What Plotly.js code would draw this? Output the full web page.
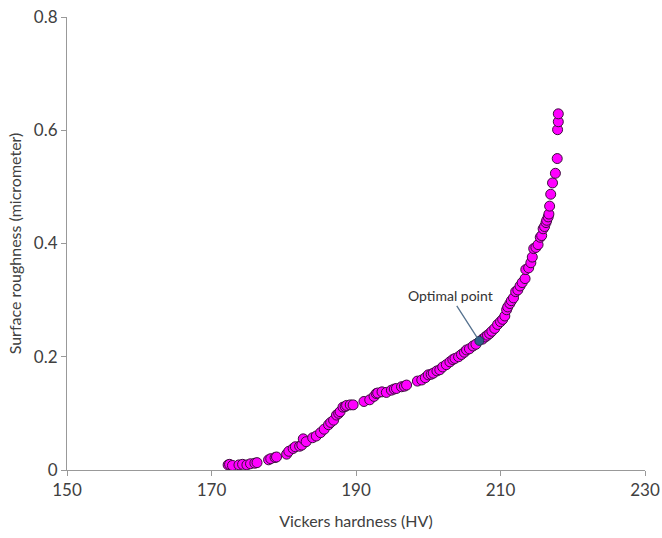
<!DOCTYPE html>
<html>
<head>
<meta charset="utf-8">
<script src="https://cdn.plot.ly/plotly-3.0.1.min.js"></script>
<style>html,body{margin:0;padding:0;background:#fff;}#chart{width:662px;height:538px;}</style>
</head>
<body>
<div id="chart"></div>
<script>
// Vickers hardness (HV) values of the Pareto points
var hardness = [
  172.3, 172.5, 172.9, 173.8, 174.3, 174.9, 175.4, 176.0, 176.3, 177.9,
  178.2, 178.8, 179.0, 180.4, 180.7, 181.3, 181.6, 182.2, 182.5, 182.7,
  183.1, 184.0, 184.5, 185.1, 185.6, 186.2, 186.5, 186.9, 187.3, 187.6,
  187.8, 188.2, 188.5, 188.7, 189.2, 189.6, 191.1, 191.9, 192.5, 192.8,
  193.0, 193.6, 194.2, 194.9, 195.3, 195.6, 196.3, 196.7, 197.0, 198.5,
  199.1, 199.6, 200.0, 200.4, 200.7, 201.2, 201.6, 202.0, 202.5, 203.0,
  203.4, 203.7, 204.2, 204.6, 205.0, 205.3, 205.7, 206.2, 206.6, 207.5,
  207.9, 208.2, 208.5, 208.8, 209.2, 209.6, 210.0, 210.3, 210.6, 210.85,
  211.0, 211.3, 211.5, 211.8, 212.1, 212.4, 212.7, 213.0, 213.4, 213.5,
  213.9, 214.2, 214.4, 214.6, 214.9, 215.2, 215.5, 215.7, 215.9, 216.1,
  216.3, 216.4, 216.6, 216.7, 216.8, 216.95, 217.2, 217.6, 217.85, 217.9,
  218.0, 218.0
];
// Surface roughness (micrometer) values of the Pareto points
var roughness = [
  0.009, 0.010, 0.008, 0.009, 0.010, 0.009, 0.011, 0.012, 0.013, 0.018,
  0.020, 0.022, 0.023, 0.028, 0.033, 0.038, 0.041, 0.042, 0.044, 0.055,
  0.050, 0.057, 0.060, 0.066, 0.072, 0.080, 0.084, 0.088, 0.097, 0.100,
  0.103, 0.111, 0.112, 0.114, 0.115, 0.115, 0.121, 0.124, 0.130, 0.135,
  0.136, 0.138, 0.137, 0.141, 0.143, 0.144, 0.147, 0.148, 0.150, 0.157,
  0.159, 0.163, 0.168, 0.169, 0.171, 0.175, 0.177, 0.182, 0.186, 0.191,
  0.195, 0.197, 0.200, 0.204, 0.208, 0.212, 0.214, 0.219, 0.222, 0.231,
  0.235, 0.238, 0.241, 0.245, 0.250, 0.257, 0.262, 0.266, 0.272, 0.283,
  0.288, 0.294, 0.299, 0.304, 0.315, 0.318, 0.325, 0.331, 0.338, 0.354,
  0.357, 0.366, 0.376, 0.391, 0.393, 0.398, 0.411, 0.414, 0.426, 0.430,
  0.437, 0.441, 0.447, 0.452, 0.466, 0.487, 0.507, 0.524, 0.550, 0.601,
  0.615, 0.629
];
// Optimal point
var optimalHardness = [207.07];
var optimalRoughness = [0.228];
var optimalLabel = "Optimal point";

var xTitle = "Vickers hardness (HV)";
var yTitle = "Surface roughness (micrometer)";

var fontFam = "Lato, 'Open Sans', sans-serif";

var traces = [
  {
    x: hardness, y: roughness, type: "scatter", mode: "markers",
    marker: {color: "#FF00FF", size: 10, line: {color: "#3b103b", width: 1}},
    hoverinfo: "skip", showlegend: false
  },
  {
    x: optimalHardness, y: optimalRoughness, type: "scatter", mode: "markers",
    marker: {color: "#2F5F86", size: 9, line: {color: "#1f3550", width: 1}},
    showlegend: false
  }
];

var axisCommon = {
  showgrid: false, zeroline: false, showline: true, linecolor: "#999999", linewidth: 1,
  ticks: "outside", ticklen: 5, tickcolor: "#999999", tickwidth: 1,
  tickfont: {family: fontFam, size: 17, color: "#404040"}
};

var layout = {
  width: 662, height: 538,
  margin: {l: 67, r: 17, t: 17, b: 68},
  paper_bgcolor: "#ffffff", plot_bgcolor: "#ffffff",
  font: {family: fontFam, color: "#404040"},
  xaxis: Object.assign({}, axisCommon, {
    range: [150, 230], tick0: 150, dtick: 20, autorange: false,
    title: {text: xTitle, font: {family: fontFam, size: 16, color: "#404040"}, standoff: 16}
  }),
  yaxis: Object.assign({}, axisCommon, {
    range: [0, 0.8], tick0: 0, dtick: 0.2, autorange: false,
    title: {text: yTitle, font: {family: fontFam, size: 16, color: "#404040"}, standoff: 8}
  }),
  annotations: [{
    x: optimalHardness[0], y: optimalRoughness[0], xref: "x", yref: "y",
    text: optimalLabel, showarrow: true, arrowhead: 0, arrowwidth: 1.3,
    arrowcolor: "#56728f", ax: -29, ay: -45, standoff: 4,
    font: {family: fontFam, size: 14, color: "#333333"}
  }]
};

Plotly.newPlot("chart", traces, layout, {displayModeBar: false, staticPlot: true});
</script>
</body>
</html>
